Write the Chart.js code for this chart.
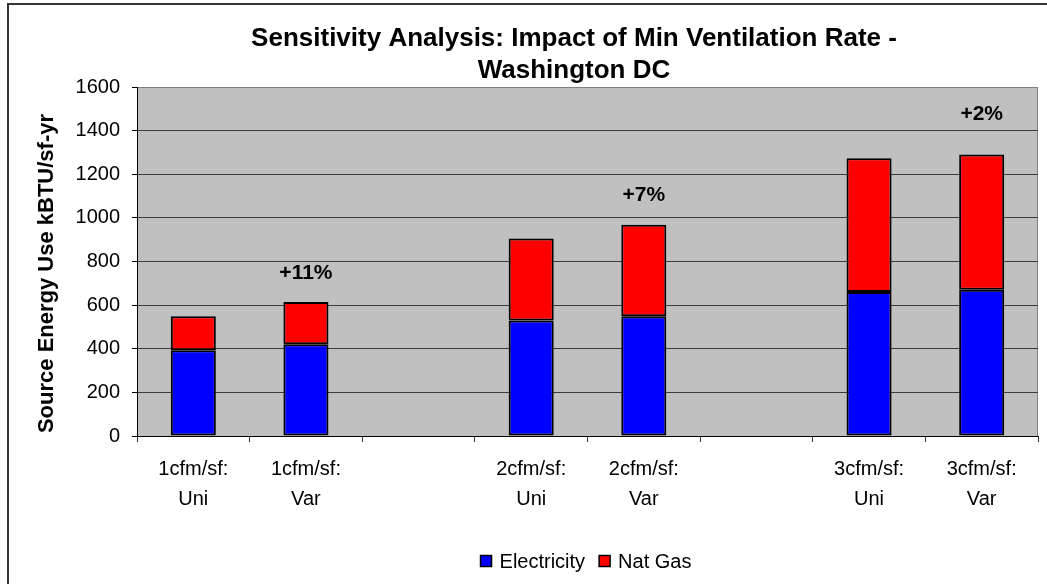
<!DOCTYPE html>
<html>
<head>
<meta charset="utf-8">
<script src="https://cdn.jsdelivr.net/npm/chart.js@4/dist/chart.umd.min.js"></script>
<style>
  html, body { margin: 0; padding: 0; background: #fff; }
</style>
</head>
<body>
<canvas id="chart" width="1047" height="584"></canvas>
<script>
// chart data
var categories = [['1cfm/sf:', 'Uni'], ['1cfm/sf:', 'Var'], '', ['2cfm/sf:', 'Uni'], ['2cfm/sf:', 'Var'], '', ['3cfm/sf:', 'Uni'], ['3cfm/sf:', 'Var']];
var electricity = [393, 421, null, 530, 549, null, 660, 671];
var natGas = [156, 193, null, 375, 420, null, 613, 620];
var changeLabels = [null, '+11%', null, null, '+7%', null, null, '+2%'];
var changeLabelAt = [null, 745, null, null, 1102, null, null, 1477];
var titleLines = ['Sensitivity Analysis: Impact of Min Ventilation Rate -', 'Washington DC'];
var yTitle = 'Source Energy Use kBTU/sf-yr';
var yMin = 0, yMax = 1600, yStep = 200;

var FONT = "'Liberation Sans', Arial, sans-serif";

var extras = {
  id: 'extras',
  beforeDraw: function(chart) {
    var ctx = chart.ctx, a = chart.chartArea;
    ctx.save();
    ctx.fillStyle = '#fff';
    ctx.fillRect(0, 0, chart.width, chart.height);
    ctx.fillStyle = '#c0c0c0';
    ctx.fillRect(a.left, a.top, a.right - a.left, a.bottom - a.top);
    // plot border top / right
    ctx.strokeStyle = '#808080';
    ctx.lineWidth = 1;
    ctx.beginPath();
    ctx.moveTo(a.left, a.top + 0.5);
    ctx.lineTo(a.right - 0.5, a.top + 0.5);
    ctx.lineTo(a.right - 0.5, a.bottom);
    ctx.stroke();
    // outer frame
    ctx.strokeStyle = '#333';
    ctx.lineWidth = 2;
    ctx.beginPath();
    ctx.moveTo(8, chart.height + 2);
    ctx.lineTo(8, 4);
    ctx.lineTo(chart.width + 2, 4);
    ctx.stroke();
    ctx.restore();
  },
  afterDraw: function(chart) {
    var ctx = chart.ctx, a = chart.chartArea;
    ctx.save();
    ctx.fillStyle = '#000';
    ctx.textAlign = 'center';
    ctx.textBaseline = 'middle';
    // title
    ctx.font = 'bold 26px ' + FONT;
    ctx.fillText(titleLines[0], 574, 39);
    ctx.fillText(titleLines[1], 574, 71);
    // y axis title
    ctx.save();
    ctx.translate(47, (a.top + a.bottom) / 2 + 12);
    ctx.rotate(-Math.PI / 2);
    ctx.font = 'bold 22px ' + FONT;
    ctx.fillText(yTitle, 0, 0);
    ctx.restore();
    // change labels
    ctx.font = 'bold 21px ' + FONT;
    for (var i = 0; i < changeLabels.length; i++) {
      if (!changeLabels[i]) continue;
      var x = chart.scales.x.getPixelForValue(i);
      var y = chart.scales.y.getPixelForValue(changeLabelAt[i]);
      ctx.fillText(changeLabels[i], x, y);
    }
    // legend
    ctx.font = '20px ' + FONT;
    ctx.textAlign = 'left';
    var ds = chart.data.datasets;
    var box = 11, gap = 8, between = 14;
    var total = 0;
    ds.forEach(function(d, k) {
      total += box + gap + ctx.measureText(d.label).width + (k < ds.length - 1 ? between : 0);
    });
    var lx = 586 - total / 2, ly = 561;
    ds.forEach(function(d) {
      ctx.fillStyle = d.backgroundColor;
      ctx.fillRect(lx, ly - box / 2, box, box);
      ctx.strokeStyle = '#000';
      ctx.lineWidth = 1.5;
      ctx.strokeRect(lx, ly - box / 2, box, box);
      ctx.fillStyle = '#000';
      ctx.fillText(d.label, lx + box + gap, ly + 1);
      lx += box + gap + ctx.measureText(d.label).width + between;
    });
    ctx.restore();
  }
};

var ctx = document.getElementById('chart').getContext('2d');
var chart = new Chart(ctx, {
  type: 'bar',
  data: {
    labels: categories,
    datasets: [{
      label: 'Electricity',
      data: electricity,
      backgroundColor: '#0000ff',
      borderColor: '#000',
      borderWidth: 2,
      borderSkipped: false
    }, {
      label: 'Nat Gas',
      data: natGas,
      backgroundColor: '#ff0000',
      borderColor: '#000',
      borderWidth: 2,
      borderSkipped: false
    }]
  },
  options: {
    responsive: false,
    animation: false,
    layout: { padding: { top: 87, right: 9, left: 0, bottom: 0 } },
    datasets: { bar: { categoryPercentage: 1, barPercentage: 0.4 } },
    plugins: {
      legend: { display: false },
      title: { display: false },
      tooltip: { enabled: false }
    },
    scales: {
      x: {
        stacked: true,
        afterFit: function(scale) { scale.height = 148; },
        grid: { drawOnChartArea: false, drawTicks: true, tickLength: 6, tickColor: '#333', offset: true },
        border: { color: '#000', width: 1 },
        ticks: {
          color: '#000',
          font: { family: FONT, size: 20, lineHeight: 1.5 },
          padding: 12,
          maxRotation: 0,
          autoSkip: false
        }
      },
      y: {
        stacked: true,
        min: yMin,
        max: yMax,
        afterFit: function(scale) { scale.width = 137; },
        grid: {
          color: function(c) { return c.tick && c.tick.value === yMax ? '#808080' : '#3c3c3c'; },
          lineWidth: 1,
          tickLength: 5,
          tickColor: '#000'
        },
        border: { color: '#000', width: 1 },
        ticks: {
          stepSize: yStep,
          color: '#000',
          font: { family: FONT, size: 20 },
          padding: 12,
          callback: function(v) { return String(v); }
        }
      }
    }
  },
  plugins: [extras]
});
</script>
</body>
</html>
